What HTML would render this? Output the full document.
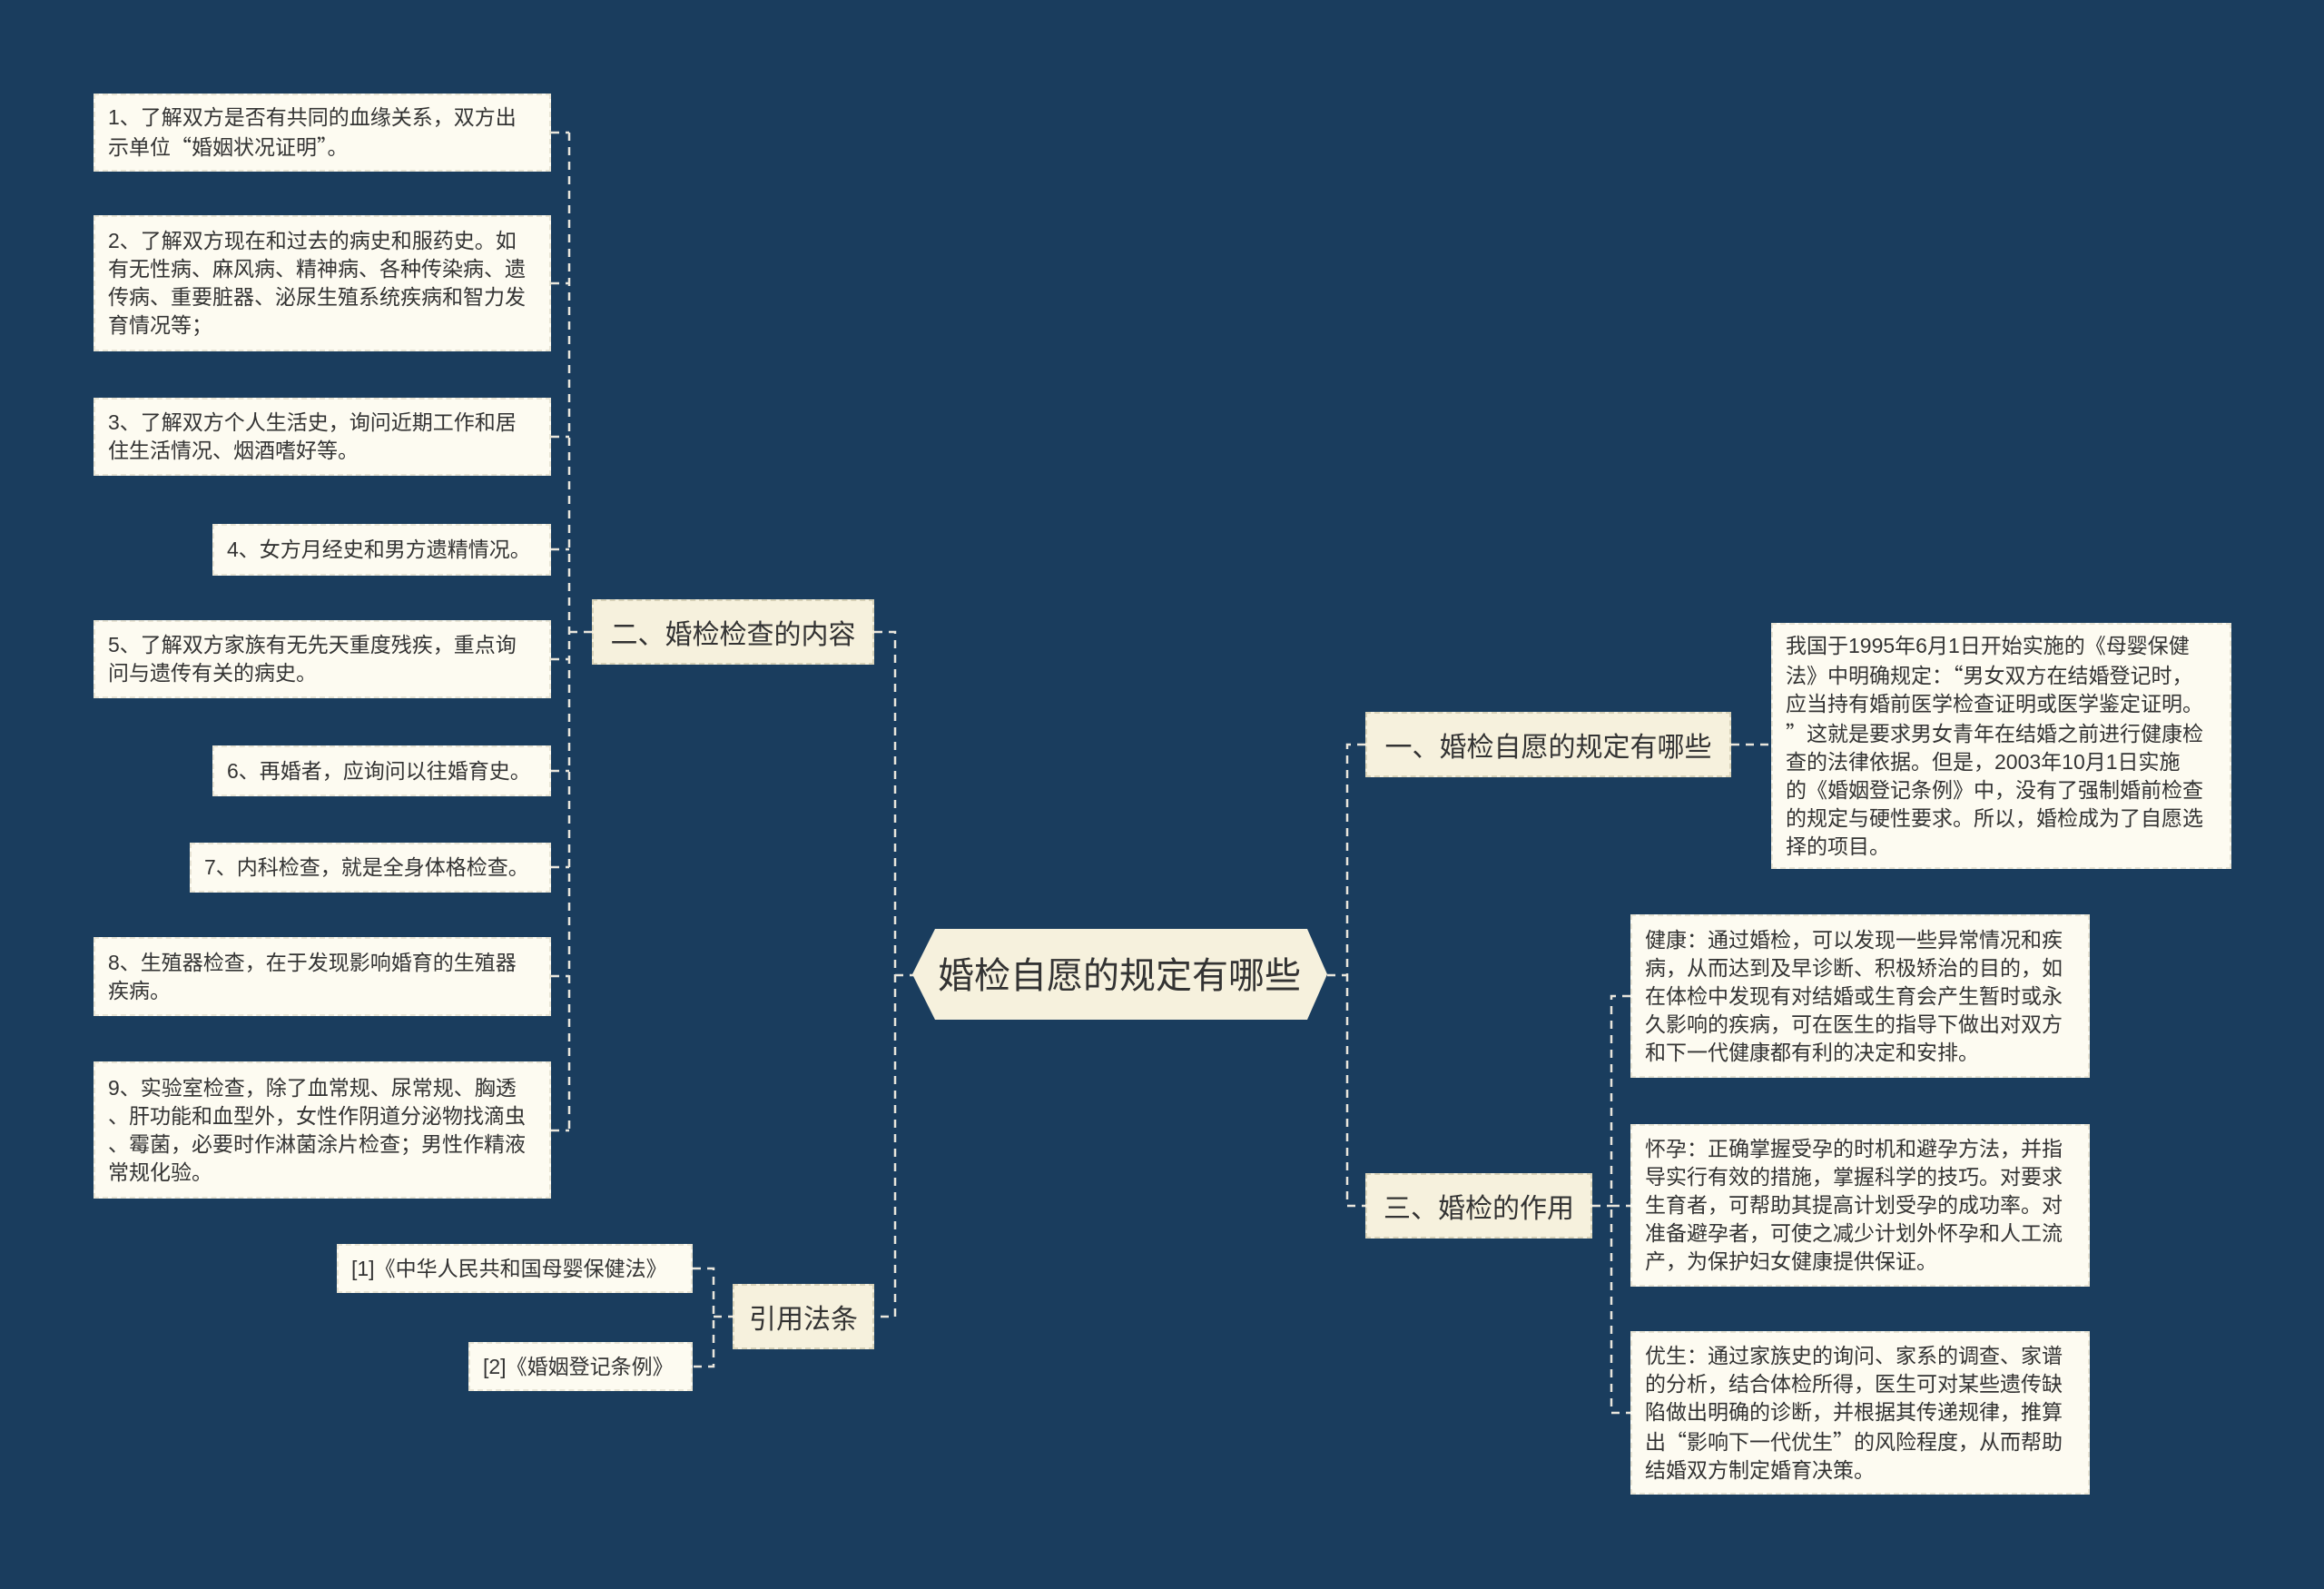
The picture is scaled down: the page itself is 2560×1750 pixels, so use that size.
<!DOCTYPE html>
<html><head><meta charset="utf-8">
<style>
html,body{margin:0;padding:0}
body{width:2560px;height:1750px;background:#1a3d5e;position:relative;overflow:hidden;font-family:"Liberation Sans","Noto Sans CJK SC",sans-serif;}
.b{position:absolute;box-sizing:border-box;background:#fdfbf1;border:2px dashed #e8e4d4;color:#333;font-size:23px;line-height:31px;padding:0 14px;display:flex;align-items:center;line-break:anywhere;}
.b span{display:block}
.q{font-family:"Noto Sans CJK SC",sans-serif}
.t{position:absolute;box-sizing:border-box;background:#f6f1dd;border:2px dashed #d8d2b8;color:#333;font-size:30px;display:flex;align-items:center;justify-content:center;white-space:nowrap}
svg{position:absolute;left:0;top:0}
</style></head><body>
<svg width="2560" height="1750">
<g stroke="#e9e6dc" stroke-width="2.5" fill="none" stroke-dasharray="9,7">
<path d="M627 146 V1245"/>
<path d="M607 146 H627 M607 312 H627 M607 481 H627 M607 605 H627 M607 726 H627 M607 849 H627 M607 955 H627 M607 1075 H627 M607 1245 H627"/>
<path d="M627 696 H652"/>
<path d="M963 696 H986 V1450 H963"/>
<path d="M986 1074 H1007"/>
<path d="M763 1397 H786 V1505 H763 M786 1450 H807"/>
<path d="M1462 1074 H1484"/>
<path d="M1504 820 H1484 V1328 H1504"/>
<path d="M1907 820 H1951"/>
<path d="M1754 1328 H1775"/>
<path d="M1796 1097 H1775 V1556 H1796 M1775 1328 H1796"/>
</g>
<polygon points="1030,1023 1440,1023 1462,1073 1440,1123 1030,1123 1005,1073" fill="#f6f1dd"/>
<text x="1233" y="1088" font-size="40" text-anchor="middle" fill="#333" font-family="Liberation Sans, Noto Sans CJK SC, sans-serif">婚检自愿的规定有哪些</text>
</svg>

<div class="b" style="left:103px;top:103px;width:504px;height:86px"><span>1、了解双方是否有共同的血缘关系，双方出示单位<span class="q" style="display:inline">“</span>婚姻状况证明<span class="q" style="display:inline">”</span>。</span></div>
<div class="b" style="left:103px;top:237px;width:504px;height:150px"><span>2、了解双方现在和过去的病史和服药史。如有无性病、麻风病、精神病、各种传染病、遗传病、重要脏器、泌尿生殖系统疾病和智力发育情况等；</span></div>
<div class="b" style="left:103px;top:438px;width:504px;height:86px"><span>3、了解双方个人生活史，询问近期工作和居住生活情况、烟酒嗜好等。</span></div>
<div class="b" style="left:234px;top:577px;width:373px;height:57px"><span>4、女方月经史和男方遗精情况。</span></div>
<div class="b" style="left:103px;top:683px;width:504px;height:86px"><span>5、了解双方家族有无先天重度残疾，重点询问与遗传有关的病史。</span></div>
<div class="b" style="left:234px;top:821px;width:373px;height:56px"><span>6、再婚者，应询问以往婚育史。</span></div>
<div class="b" style="left:209px;top:928px;width:398px;height:55px"><span>7、内科检查，就是全身体格检查。</span></div>
<div class="b" style="left:103px;top:1032px;width:504px;height:87px"><span>8、生殖器检查，在于发现影响婚育的生殖器疾病。</span></div>
<div class="b" style="left:103px;top:1169px;width:504px;height:151px"><span>9、实验室检查，除了血常规、尿常规、胸透、肝功能和血型外，女性作阴道分泌物找滴虫、霉菌，必要时作淋菌涂片检查；男性作精液常规化验。</span></div>

<div class="t" style="left:652px;top:660px;width:311px;height:72px">二、婚检检查的内容</div>
<div class="t" style="left:807px;top:1414px;width:156px;height:72px">引用法条</div>

<div class="b" style="left:371px;top:1370px;width:392px;height:54px"><span>[1]《中华人民共和国母婴保健法》</span></div>
<div class="b" style="left:516px;top:1478px;width:247px;height:54px"><span>[2]《婚姻登记条例》</span></div>

<div class="t" style="left:1504px;top:784px;width:403px;height:72px">一、婚检自愿的规定有哪些</div>
<div class="t" style="left:1504px;top:1292px;width:250px;height:72px">三、婚检的作用</div>

<div class="b" style="left:1951px;top:686px;width:507px;height:271px;white-space:nowrap"><span>我国于1995年6月1日开始实施的《母婴保健<br>法》中明确规定：<span class="q" style="display:inline">“</span>男女双方在结婚登记时，<br>应当持有婚前医学检查证明或医学鉴定证明。<br><span class="q" style="display:inline">”</span>这就是要求男女青年在结婚之前进行健康检<br>查的法律依据。但是，2003年10月1日实施<br>的《婚姻登记条例》中，没有了强制婚前检查<br>的规定与硬性要求。所以，婚检成为了自愿选<br>择的项目。</span></div>
<div class="b" style="left:1796px;top:1007px;width:506px;height:180px"><span>健康：通过婚检，可以发现一些异常情况和疾病，从而达到及早诊断、积极矫治的目的，如在体检中发现有对结婚或生育会产生暂时或永久影响的疾病，可在医生的指导下做出对双方和下一代健康都有利的决定和安排。</span></div>
<div class="b" style="left:1796px;top:1238px;width:506px;height:179px"><span>怀孕：正确掌握受孕的时机和避孕方法，并指导实行有效的措施，掌握科学的技巧。对要求生育者，可帮助其提高计划受孕的成功率。对准备避孕者，可使之减少计划外怀孕和人工流产，为保护妇女健康提供保证。</span></div>
<div class="b" style="left:1796px;top:1466px;width:506px;height:180px"><span>优生：通过家族史的询问、家系的调查、家谱的分析，结合体检所得，医生可对某些遗传缺陷做出明确的诊断，并根据其传递规律，推算出<span class="q" style="display:inline">“</span>影响下一代优生<span class="q" style="display:inline">”</span>的风险程度，从而帮助结婚双方制定婚育决策。</span></div>
</body></html>
